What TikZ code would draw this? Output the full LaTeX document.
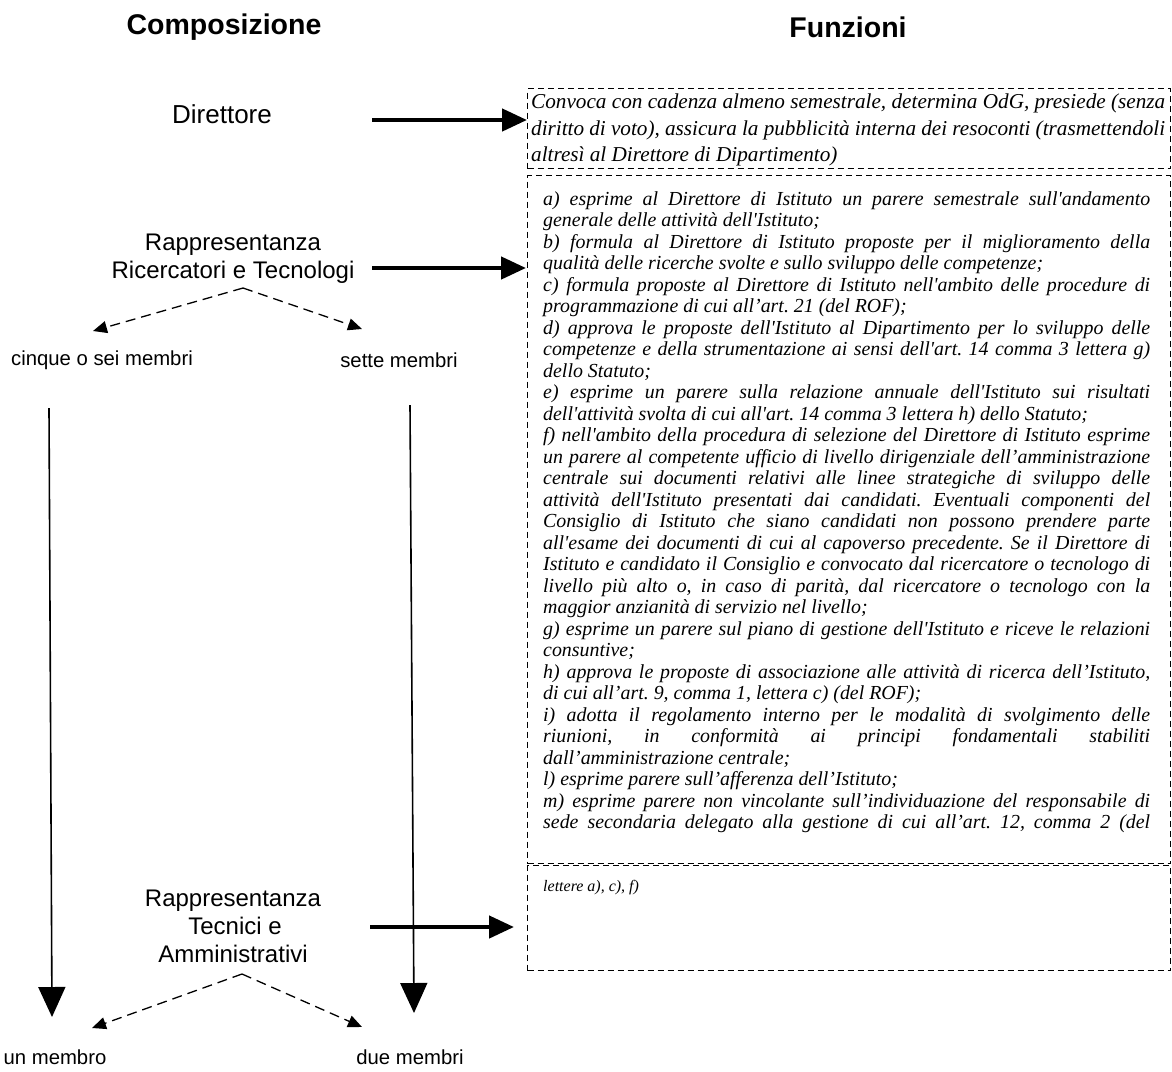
\documentclass[tikz,border=0pt]{standalone}
\usepackage{fontspec}
\setmainfont{Liberation Serif}
\newfontfamily\arialf{Liberation Sans}
\newfontfamily\tnrf{Liberation Serif}
\usetikzlibrary{arrows.meta}
\frenchspacing
\newcommand\sq{\textquotesingle}
\newcommand\JT[1]{\makebox[634pt][s]{#1}}
\newcommand\JB[1]{\makebox[607pt][s]{#1}}
\tikzset{
 hdr/.style={font=\arialf\bfseries\fontsize{28.5}{33}\selectfont, inner sep=0},
 lbl/.style={font=\arialf\fontsize{24}{28}\selectfont, align=center, inner sep=0},
 smalllbl/.style={font=\arialf\fontsize{20.3}{24}\selectfont, inner sep=0},
 dbox/.style={draw, dash pattern=on 6pt off 4pt, line width=1.3pt, inner sep=0, anchor=north west},
 bigarrow/.style={line width=4.5pt, -{Triangle[length=25pt,width=22pt]}},
 darrow/.style={line width=1.3pt, dash pattern=on 10pt off 6pt, -{Triangle[length=14pt,width=12pt]}},
 varrow/.style={line width=1.6pt, -{Triangle[length=30pt,width=27pt]}},
 boxtext/.style={inner sep=0, anchor=north west, align=left},
}
\begin{document}
\begin{tikzpicture}[x=1pt,y=-1pt]
\useasboundingbox[fill=white] (0,0) rectangle (1172,1071);
% headers
\node[hdr] (h1) at (224,27) {Composizione};
\node[hdr] (h2) at (848,27) {Funzioni};
% boxes
\node[dbox, minimum width=643pt, minimum height=80pt] (b1) at (527,88) {};
\node[dbox, minimum width=643pt, minimum height=688pt] (b2) at (527,175) {};
\node[dbox, minimum width=643pt, minimum height=105pt] (b3) at (527,865) {};
% box texts
\node[boxtext, font=\tnrf\itshape\fontsize{21.2}{26.5}\selectfont] (t1) at (531,94) {%
\JT{Convoca con cadenza almeno semestrale, determina OdG, presiede (senza}\\
\JT{diritto di voto), assicura la pubblicità interna dei resoconti (trasmettendoli}\\
altresì al Direttore di Dipartimento)};
\node[boxtext, font=\tnrf\itshape\fontsize{19.9}{21.5}\selectfont] (t2) at (543,191) {%
\JB{a) esprime al Direttore di Istituto un parere semestrale sull\sq andamento}\\
generale delle attività dell\sq Istituto;\\
\JB{b) formula al Direttore di Istituto proposte per il miglioramento della}\\
qualità delle ricerche svolte e sullo sviluppo delle competenze;\\
\JB{c) formula proposte al Direttore di Istituto nell\sq ambito delle procedure di}\\
programmazione di cui all’art. 21 (del ROF);\\
\JB{d) approva le proposte dell\sq Istituto al Dipartimento per lo sviluppo delle}\\
\JB{competenze e della strumentazione ai sensi dell\sq art. 14 comma 3 lettera g)}\\
dello Statuto;\\
\JB{e) esprime un parere sulla relazione annuale dell\sq Istituto sui risultati}\\
dell\sq attività svolta di cui all\sq art. 14 comma 3 lettera h) dello Statuto;\\
\JB{f) nell\sq ambito della procedura di selezione del Direttore di Istituto esprime}\\
\JB{un parere al competente ufficio di livello dirigenziale dell’amministrazione}\\
\JB{centrale sui documenti relativi alle linee strategiche di sviluppo delle}\\
\JB{attività dell\sq Istituto presentati dai candidati. Eventuali componenti del}\\
\JB{Consiglio di Istituto che siano candidati non possono prendere parte}\\
\JB{all\sq esame dei documenti di cui al capoverso precedente. Se il Direttore di}\\
\JB{Istituto e candidato il Consiglio e convocato dal ricercatore o tecnologo di}\\
\JB{livello più alto o, in caso di parità, dal ricercatore o tecnologo con la}\\
maggior anzianità di servizio nel livello;\\
\JB{g) esprime un parere sul piano di gestione dell\sq Istituto e riceve le relazioni}\\
consuntive;\\
\JB{h) approva le proposte di associazione alle attività di ricerca dell’Istituto,}\\
di cui all’art. 9, comma 1, lettera c) (del ROF);\\
\JB{i) adotta il regolamento interno per le modalità di svolgimento delle}\\
\JB{riunioni, in conformità ai principi fondamentali stabiliti}\\
dall’amministrazione centrale;\\
l) esprime parere sull’afferenza dell’Istituto;\\
\JB{m) esprime parere non vincolante sull’individuazione del responsabile di}\\
\JB{sede secondaria delegato alla gestione di cui all’art. 12, comma 2 (del}};
\node[inner sep=0, anchor=west, font=\tnrf\itshape\fontsize{16}{19}\selectfont] (t3) at (543,888) {lettere a), c), f)};
% left column
\node[font=\arialf\fontsize{26}{30}\selectfont, inner sep=0] (dir) at (222,114) {Direttore};
\node[lbl] (rrt) at (233,259) {Rappresentanza\\Ricercatori e Tecnologi};
\node[smalllbl] (c56) at (102,360) {cinque o sei membri};
\node[smalllbl] (c7) at (399,360) {sette membri};
\node[lbl, align=center] (rta) at (233,926) {Rappresentanza\\\hspace*{4pt}Tecnici e\\Amministrativi};
\node[smalllbl] (c1) at (55,1057) {un membro};
\node[smalllbl] (c2) at (410,1057) {due membri};
% coordinates
\coordinate (a1s) at (372,120); \coordinate (a1e) at (527,120);
\coordinate (a2s) at (372,268); \coordinate (a2e) at (526,268);
\coordinate (a3s) at (370,927); \coordinate (a3e) at (514,927);
\coordinate (d1) at (243,288); \coordinate (d1l) at (93,331); \coordinate (d1r) at (362,329);
\coordinate (d2) at (242,974); \coordinate (d2l) at (92,1028); \coordinate (d2r) at (362,1027);
\coordinate (v1s) at (49,408); \coordinate (v1e) at (52,1017);
\coordinate (v2s) at (410,405); \coordinate (v2e) at (414,1013);
% arrows
\draw[bigarrow] (a1s) -- (a1e);
\draw[bigarrow] (a2s) -- (a2e);
\draw[bigarrow] (a3s) -- (a3e);
\draw[darrow] (d1) -- (d1l);
\draw[darrow] (d1) -- (d1r);
\draw[darrow] (d2) -- (d2l);
\draw[darrow] (d2) -- (d2r);
\draw[varrow] (v1s) -- (v1e);
\draw[varrow] (v2s) -- (v2e);
\end{tikzpicture}
\end{document}
